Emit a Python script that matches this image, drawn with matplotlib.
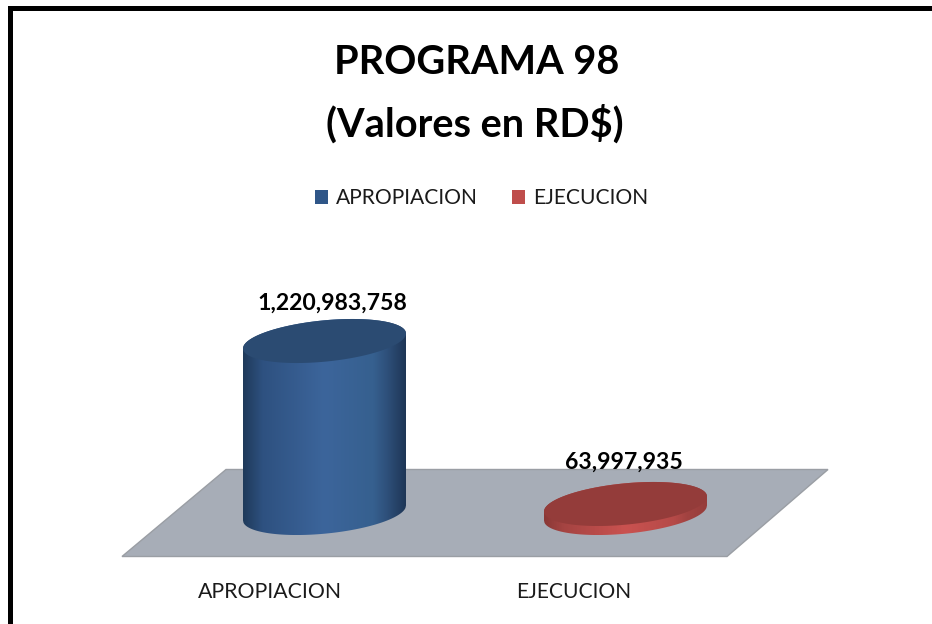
import matplotlib
matplotlib.use("Agg")
import matplotlib.pyplot as plt
import numpy as np
from matplotlib.colors import LinearSegmentedColormap
from matplotlib.patches import Patch, Polygon

plt.rcParams["font.family"] = ["Lato", "DejaVu Sans"]

categories = ["APROPIACION", "EJECUCION"]
values = [1220983758, 63997935]
value_labels = ["1,220,983,758", "63,997,935"]
title_lines = ["PROGRAMA 98", "(Valores en RD$)"]

W, H = 932, 624
BLUE = "#2f5688"
RED = "#bf4d4b"

fig = plt.figure(figsize=(W / 100, H / 100), dpi=100, facecolor="white")

# pixel-space layer: floor, frame, texts
bg = fig.add_axes([0, 0, 1, 1])
bg.set_xlim(0, W)
bg.set_ylim(H, 0)
bg.axis("off")

bg.add_patch(Polygon([(122, 556.5), (226, 469.5), (828, 469.5), (727, 556.5)],
                     closed=True, facecolor="#a7adb7", edgecolor="#9a9ea4", linewidth=1))
bg.plot([9.5, 9.5, W], [H, 7.5, 7.5], color="black", linewidth=3.6,
        solid_joinstyle="miter", solid_capstyle="butt")

bg.text(477, 62, title_lines[0], ha="center", va="center", fontsize=28.6, fontweight="bold")
bg.text(475, 124, title_lines[1], ha="center", va="center", fontsize=28.6, fontweight="bold")

# data layer: x = category index, y = value; 172 px of height for the tallest bar
px_per_val = 172 / values[0]
px_per_cat = 301
base_y, x0 = 513, 324.5
below, above = 60, 200
ax = fig.add_axes([(x0 - 0.5 * px_per_cat) / W, (H - base_y - below) / H,
                   px_per_cat * 2 / W, (below + above) / H], zorder=1)
ax.axis("off")
ax.patch.set_alpha(0)

half_w = 81.5 / px_per_cat
shear = 7.5 / px_per_val
half_h = 20.7 / px_per_val
t = np.linspace(0, 2 * np.pi, 200)

stops = [0, 0.12, 0.5, 0.8, 0.88, 1]
side_colors = [["#1f3a5a", "#2e5180", "#3c659b", "#36608f", "#2f517c", "#1e3656"],
               ["#8a3836", "#a54442", "#ca5250", "#b54a48", "#a24341", "#963d3b"]]
top_colors = ["#2b4b72", "#943c3a"]

for i, v in enumerate(values):
    xt = i + half_w * np.cos(t)
    yt = v + half_h * np.sin(t) + shear * np.cos(t)
    # side = hull of the two rings, shaded by a horizontal gradient
    xs = np.linspace(i - half_w, i + half_w, 300)
    u = np.clip((xs - i) / half_w, -1, 1)
    low = -half_h * np.sqrt(1 - u ** 2) + shear * u
    up = v + half_h * np.sqrt(1 - u ** 2) + shear * u
    side = Polygon(np.r_[np.c_[xs, low], np.c_[xs[::-1], up[::-1]]], closed=True,
                   facecolor="none", edgecolor="none", transform=ax.transData)
    ax.add_patch(side)
    cmap = LinearSegmentedColormap.from_list("side", list(zip(stops, side_colors[i])))
    img = ax.imshow(np.linspace(0, 1, 256)[None, :], cmap=cmap, aspect="auto",
                    extent=(i - half_w, i + half_w, low.min(), up.max()), zorder=2)
    img.set_clip_path(side)
    ax.fill(xt, yt, color=top_colors[i], zorder=3, linewidth=0)
ax.set_xlim(-0.5, 1.5)
ax.set_ylim(-below / px_per_val, above / px_per_val)

# text layer above the marks
fg = fig.add_axes([0, 0, 1, 1], zorder=2)
fg.set_xlim(0, W)
fg.set_ylim(H, 0)
fg.axis("off")

fg.text(332, 303, value_labels[0], ha="center", va="center", fontsize=16.6, fontweight="bold")
fg.text(624, 462, value_labels[1], ha="center", va="center", fontsize=16.6, fontweight="bold")

fg.text(270, 592, categories[0], ha="center", va="center", fontsize=15.3, color="#1a1a1a")
fg.text(574, 592, categories[1], ha="center", va="center", fontsize=15.1, color="#1a1a1a")

handles = [Patch(facecolor=BLUE, label=categories[0]), Patch(facecolor=RED, label=categories[1])]
fg.legend(handles=handles, ncol=2, loc="center", bbox_to_anchor=(481.5 / W, 1 - 198.5 / H),
          frameon=False, fontsize=15.1, handlelength=0.62, handleheight=0.62,
          handletextpad=0.36, columnspacing=1.67, labelcolor="#1a1a1a")

fig.savefig("out.png", dpi=100)
